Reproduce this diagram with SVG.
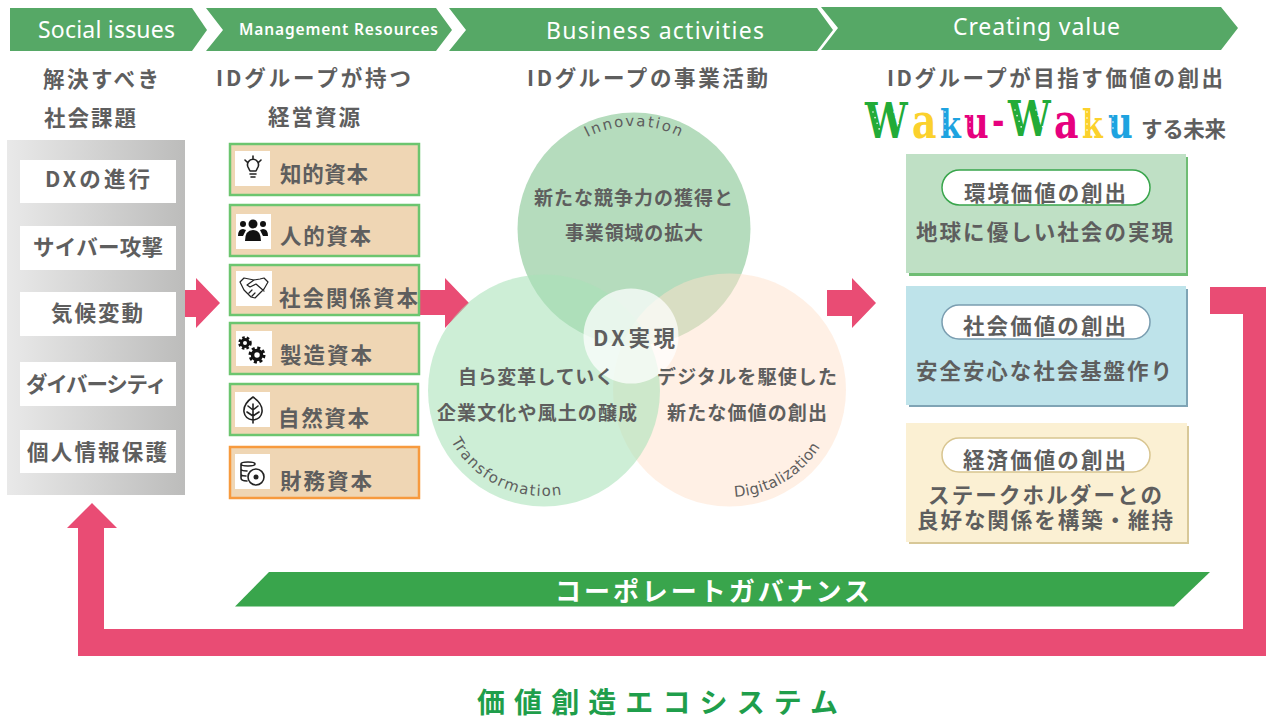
<svg xmlns="http://www.w3.org/2000/svg" width="1266" height="722" viewBox="0 0 1266 722">
<style>
text{font-family:"Noto Sans CJK JP","Noto Sans",sans-serif;dominant-baseline:central}
.t{font-size:21.500px;font-weight:700;fill:#5e5e5e;transform:translateY(-1px)}
.v{font-size:19px;font-weight:700;fill:#5e5e5e;transform:translateY(-1px)}
.h{font-family:"Noto Sans","Liberation Sans",sans-serif;font-size:23px;fill:#fff;transform:translateY(-1px)}
.c{font-family:"DejaVu Sans",sans-serif;font-size:15px;fill:#5e5e5e;dominant-baseline:auto}
.chev{fill:#56a866}
.pink{fill:#e94c74}
.res{fill:#efd6b4;stroke:#6cc56f;stroke-width:2.5}
.ico{fill:#fff}
.ln{fill:none;stroke:#222;stroke-width:1.6;stroke-linecap:round;stroke-linejoin:round}
.pill{fill:#fff;stroke-width:1.5}
.wk{font-family:"DejaVu Serif",serif;font-weight:700;font-size:38px;dominant-baseline:auto}
.dots{fill:none;stroke:#fff;stroke-width:1.600;stroke-linecap:round;stroke-dasharray:0 6}
</style>
<defs>
<linearGradient id="grey" x1="0" x2="1" y1="0" y2="0"><stop offset="0" stop-color="#e9e9e9"/><stop offset="1" stop-color="#bcbcbb"/></linearGradient>
<path id="arcI" d="M531 229A103 103 0 0 1 737 229"/>
<path id="arcT" d="M438 390A106 106 0 0 0 650 390"/>
<path id="arcD" d="M729.5 497A107 107 0 0 0 836.5 390"/>
</defs>
<rect width="1266" height="722" fill="#fff"/>

<g id="connectors">
<path class="pink" d="M185 290H196V278L220 303L196 328V317H185Z"/>
<path class="pink" d="M420 290H445V278L469 303L445 328V315H420Z"/>
<path class="pink" d="M827 290H852V278L876 303L852 328V316H827Z"/>
<path class="pink" d="M1210 287H1266V656H78V528H67L92 503L117 528H104V629H1243V314H1210Z"/>
</g>

<g id="header-social"><path class="chev" d="M10 8H192L207 30L192 51H10Z"/><text class="h" x="38" y="30" textLength="137">Social issues</text></g>
<g id="header-resources"><path class="chev" d="M206 8H436L452 30L436 51H206L223 30Z"/><text class="h" x="239" y="30" textLength="199" style="font-size:15.500px;font-weight:600">Management Resources</text></g>
<g id="header-business"><path class="chev" d="M449 8H817L833 30L817 51H449L466 30Z"/><text class="h" x="546" y="31" textLength="218">Business activities</text></g>
<g id="header-value"><path class="chev" d="M821 7H1221L1238 28L1221 50H821L838 28Z"/><text class="h" x="953" y="27" textLength="167">Creating value</text></g>

<g id="col-titles">
<text class="t" x="43" y="78" textLength="116">解決すべき</text>
<text class="t" x="44" y="117" textLength="92">社会課題</text>
<text class="t" x="216" y="77" textLength="195">IDグループが持つ</text>
<text class="t" x="268" y="116" textLength="92">経営資源</text>
<text class="t" x="527" y="77" textLength="241">IDグループの事業活動</text>
<text class="t" x="887" y="77" textLength="336">IDグループが目指す価値の創出</text>
</g>

<g id="waku">
<text class="wk" transform="scale(1 1.3)" y="106"><tspan x="865" fill="#22ab38">W</tspan><tspan x="912" fill="#fbd12d">a</tspan><tspan x="940" font-size="30" fill="#1ea3e0">k</tspan><tspan x="964" font-size="34" fill="#e6007e">u</tspan><tspan x="992" y="103" font-size="30" fill="#e6007e">-</tspan><tspan x="1008" y="105" fill="#22ab38">W</tspan><tspan x="1054" y="106" fill="#e6007e">a</tspan><tspan x="1082" font-size="30" fill="#fbd12d">k</tspan><tspan x="1108" font-size="34" fill="#1ea3e0">u</tspan></text>
<path class="dots" d="M873 112L881 134M894 112L901 130M1015 110L1023 132M1036 110L1043 128M970 116V132M1113 116V132M945 112V134M1087 112V134"/>
<text class="t" x="1141" y="128" textLength="85">する未来</text>
</g>

<g id="issues">
<rect x="7" y="140" width="178" height="355" fill="url(#grey)"/>
<g id="issue-dx"><rect x="20" y="160" width="156" height="43" fill="#fff"/><text class="t" x="45" y="178" textLength="105">DXの進行</text></g>
<g id="issue-cyber"><rect x="20" y="226" width="156" height="44" fill="#fff"/><text class="t" x="33" y="246" textLength="130">サイバー攻撃</text></g>
<g id="issue-climate"><rect x="20" y="292" width="156" height="44" fill="#fff"/><text class="t" x="51" y="312" textLength="92">気候変動</text></g>
<g id="issue-diversity"><rect x="20" y="362" width="156" height="44" fill="#fff"/><text class="t" x="26" y="383" textLength="141">ダイバーシティ</text></g>
<g id="issue-privacy"><rect x="20" y="430" width="156" height="43" fill="#fff"/><text class="t" x="27" y="451" textLength="140">個人情報保護</text></g>
</g>

<g id="res-intellectual"><rect class="res" x="230" y="144" width="189" height="51"/><rect class="ico" x="235" y="151" width="35" height="35"/>
<path class="ln" d="M248 167a5.500 5.500 0 1 1 10 0l-2 4h-6ZM250 174h6M251 177h4M253 156v3M245 160l2 2M261 160l-2 2"/><text class="t" x="280" y="173" textLength="88">知的資本</text></g>
<g id="res-human"><rect class="res" x="230" y="205" width="189" height="51"/><rect class="ico" x="236" y="214" width="35" height="35"/>
<g fill="#111"><circle cx="253" cy="224" r="4.500"/><circle cx="243" cy="224" r="3"/><circle cx="263" cy="224" r="3"/><path d="M245 241q0-11 8-11t8 11ZM238 236q0-7 5-7l3 1-3 6ZM268 236q0-7-5-7l-3 1 3 6Z"/></g>
<text class="t" x="280" y="235" textLength="91">人的資本</text></g>
<g id="res-social"><rect class="res" x="230" y="265" width="189" height="50"/><rect class="ico" x="236" y="271" width="36" height="35"/>
<path class="ln" style="stroke-width:1.200" d="M240 282l4-4 10 2 6-1 4-1 4 4-4 7-9 9-4-1-7-7ZM254 280l-7 5 3 2 6-3 8 7M249 293l3-3M252 296l3-3"/><text class="t" x="279" y="297" textLength="139">社会関係資本</text></g>
<g id="res-manufacturing"><rect class="res" x="230" y="323" width="189" height="51"/><rect class="ico" x="236" y="331" width="36" height="35"/>
<g fill="none" stroke="#111"><circle cx="245" cy="343" r="3.500" stroke-width="3"/><circle cx="245" cy="343" r="5.500" stroke-width="2.500" stroke-dasharray="2.500 2"/><circle cx="257" cy="355" r="4.500" stroke-width="3.500"/><circle cx="257" cy="355" r="7" stroke-width="3" stroke-dasharray="3 2.500"/></g>
<text class="t" x="280" y="354" textLength="92">製造資本</text></g>
<g id="res-natural"><rect class="res" x="230" y="384" width="188" height="51"/><rect class="ico" x="235" y="392" width="35" height="35"/>
<path class="ln" d="M253 397q-10 7-9 15q1 7 9 8q8-1 9-8q1-8-9-15ZM253 404v19M253 410l-5-4M253 410l5-4M253 416l-6-4M253 416l6-4"/><text class="t" x="278" y="417" textLength="91">自然資本</text></g>
<g id="res-financial"><rect class="res" style="stroke:#f79a3e" x="230" y="447" width="189" height="51"/><rect class="ico" x="235" y="454" width="35" height="35"/>
<path class="ln" d="M241 464q0-2 7-2t7 2q0 2-7 2t-7-2ZM241 464v14q0 3 6 3M241 469q0 2 6 2M241 474q0 2 5 2"/><circle class="ln" cx="256" cy="477" r="8"/><circle cx="256" cy="477" r="2.500" fill="#222"/><text class="t" x="280" y="480" textLength="92">財務資本</text></g>

<g id="venn">
<g id="circle-innovation"><circle cx="634" cy="229" r="116.500" fill="#b5dcbd"/><text class="c"><textPath href="#arcI" startOffset="35%" textLength="96">Innovation</textPath></text><text class="v" x="534" y="197" textLength="199">新たな競争力の獲得と</text><text class="v" x="565" y="232" textLength="138">事業領域の拡大</text></g>
<g id="circle-digitalization"><circle cx="729.500" cy="390" r="116.500" fill="#ffe0ca" fill-opacity=".49"/></g>
<g id="circle-transformation"><circle cx="544" cy="390.500" r="116" fill="#a9e2b8" fill-opacity=".58"/></g>
<g id="circle-dx"><circle cx="631" cy="336" r="47.500" fill="#fff" fill-opacity=".72"/><text class="t" x="593" y="337" textLength="82">DX実現</text></g>
<text class="c"><textPath href="#arcT" startOffset="16%" textLength="131">Transformation</textPath></text>
<text class="c"><textPath href="#arcD" startOffset="3%" textLength="103">Digitalization</textPath></text>
<text class="v" x="458" y="376" textLength="156">自ら変革していく</text>
<text class="v" x="437" y="412" textLength="200">企業文化や風土の醸成</text>
<text class="v" x="657" y="376" textLength="180">デジタルを駆使した</text>
<text class="v" x="667" y="412" textLength="160">新たな価値の創出</text>
</g>

<g id="value-env"><rect x="909" y="157" width="279" height="119" fill="#6fbd74"/><rect x="906" y="154" width="280" height="119" fill="#bfe0c5"/><rect class="pill" stroke="#39a54c" x="942" y="170" width="208" height="35" rx="17.500"/><text class="t" x="964" y="192" textLength="162">環境価値の創出</text><text class="t" x="916" y="231" textLength="257">地球に優しい社会の実現</text></g>
<g id="value-social"><rect x="909" y="289" width="279" height="118" fill="#7fa4b5"/><rect x="906" y="286" width="280" height="119" fill="#bee3ea"/><rect class="pill" stroke="#7a9db0" x="942" y="305" width="208" height="34" rx="17"/><text class="t" x="963" y="325" textLength="163">社会価値の創出</text><text class="t" x="916" y="370" textLength="256">安全安心な社会基盤作り</text></g>
<g id="value-economic"><rect x="909" y="426" width="280" height="118" fill="#d8c898"/><rect x="906" y="423" width="281" height="119" fill="#fbf0d3"/><rect class="pill" stroke="#d8c590" x="942" y="438" width="208" height="34" rx="17"/><text class="t" x="963" y="459" textLength="163">経済価値の創出</text><text class="t" x="928" y="494" textLength="234">ステークホルダーとの</text><text class="t" x="917" y="519" textLength="256">良好な関係を構築・維持</text></g>

<g id="governance"><path fill="#39a54c" d="M269 572H1210L1174 606.500H235Z"/><text x="555" y="589" textLength="315" style="font-size:26px;font-weight:700;fill:#fff">コーポレートガバナンス</text></g>
<g id="ecosystem"><text x="477" y="701" textLength="361" style="font-size:28px;font-weight:700;fill:#1f9e4b">価値創造エコシステム</text></g>
</svg>
